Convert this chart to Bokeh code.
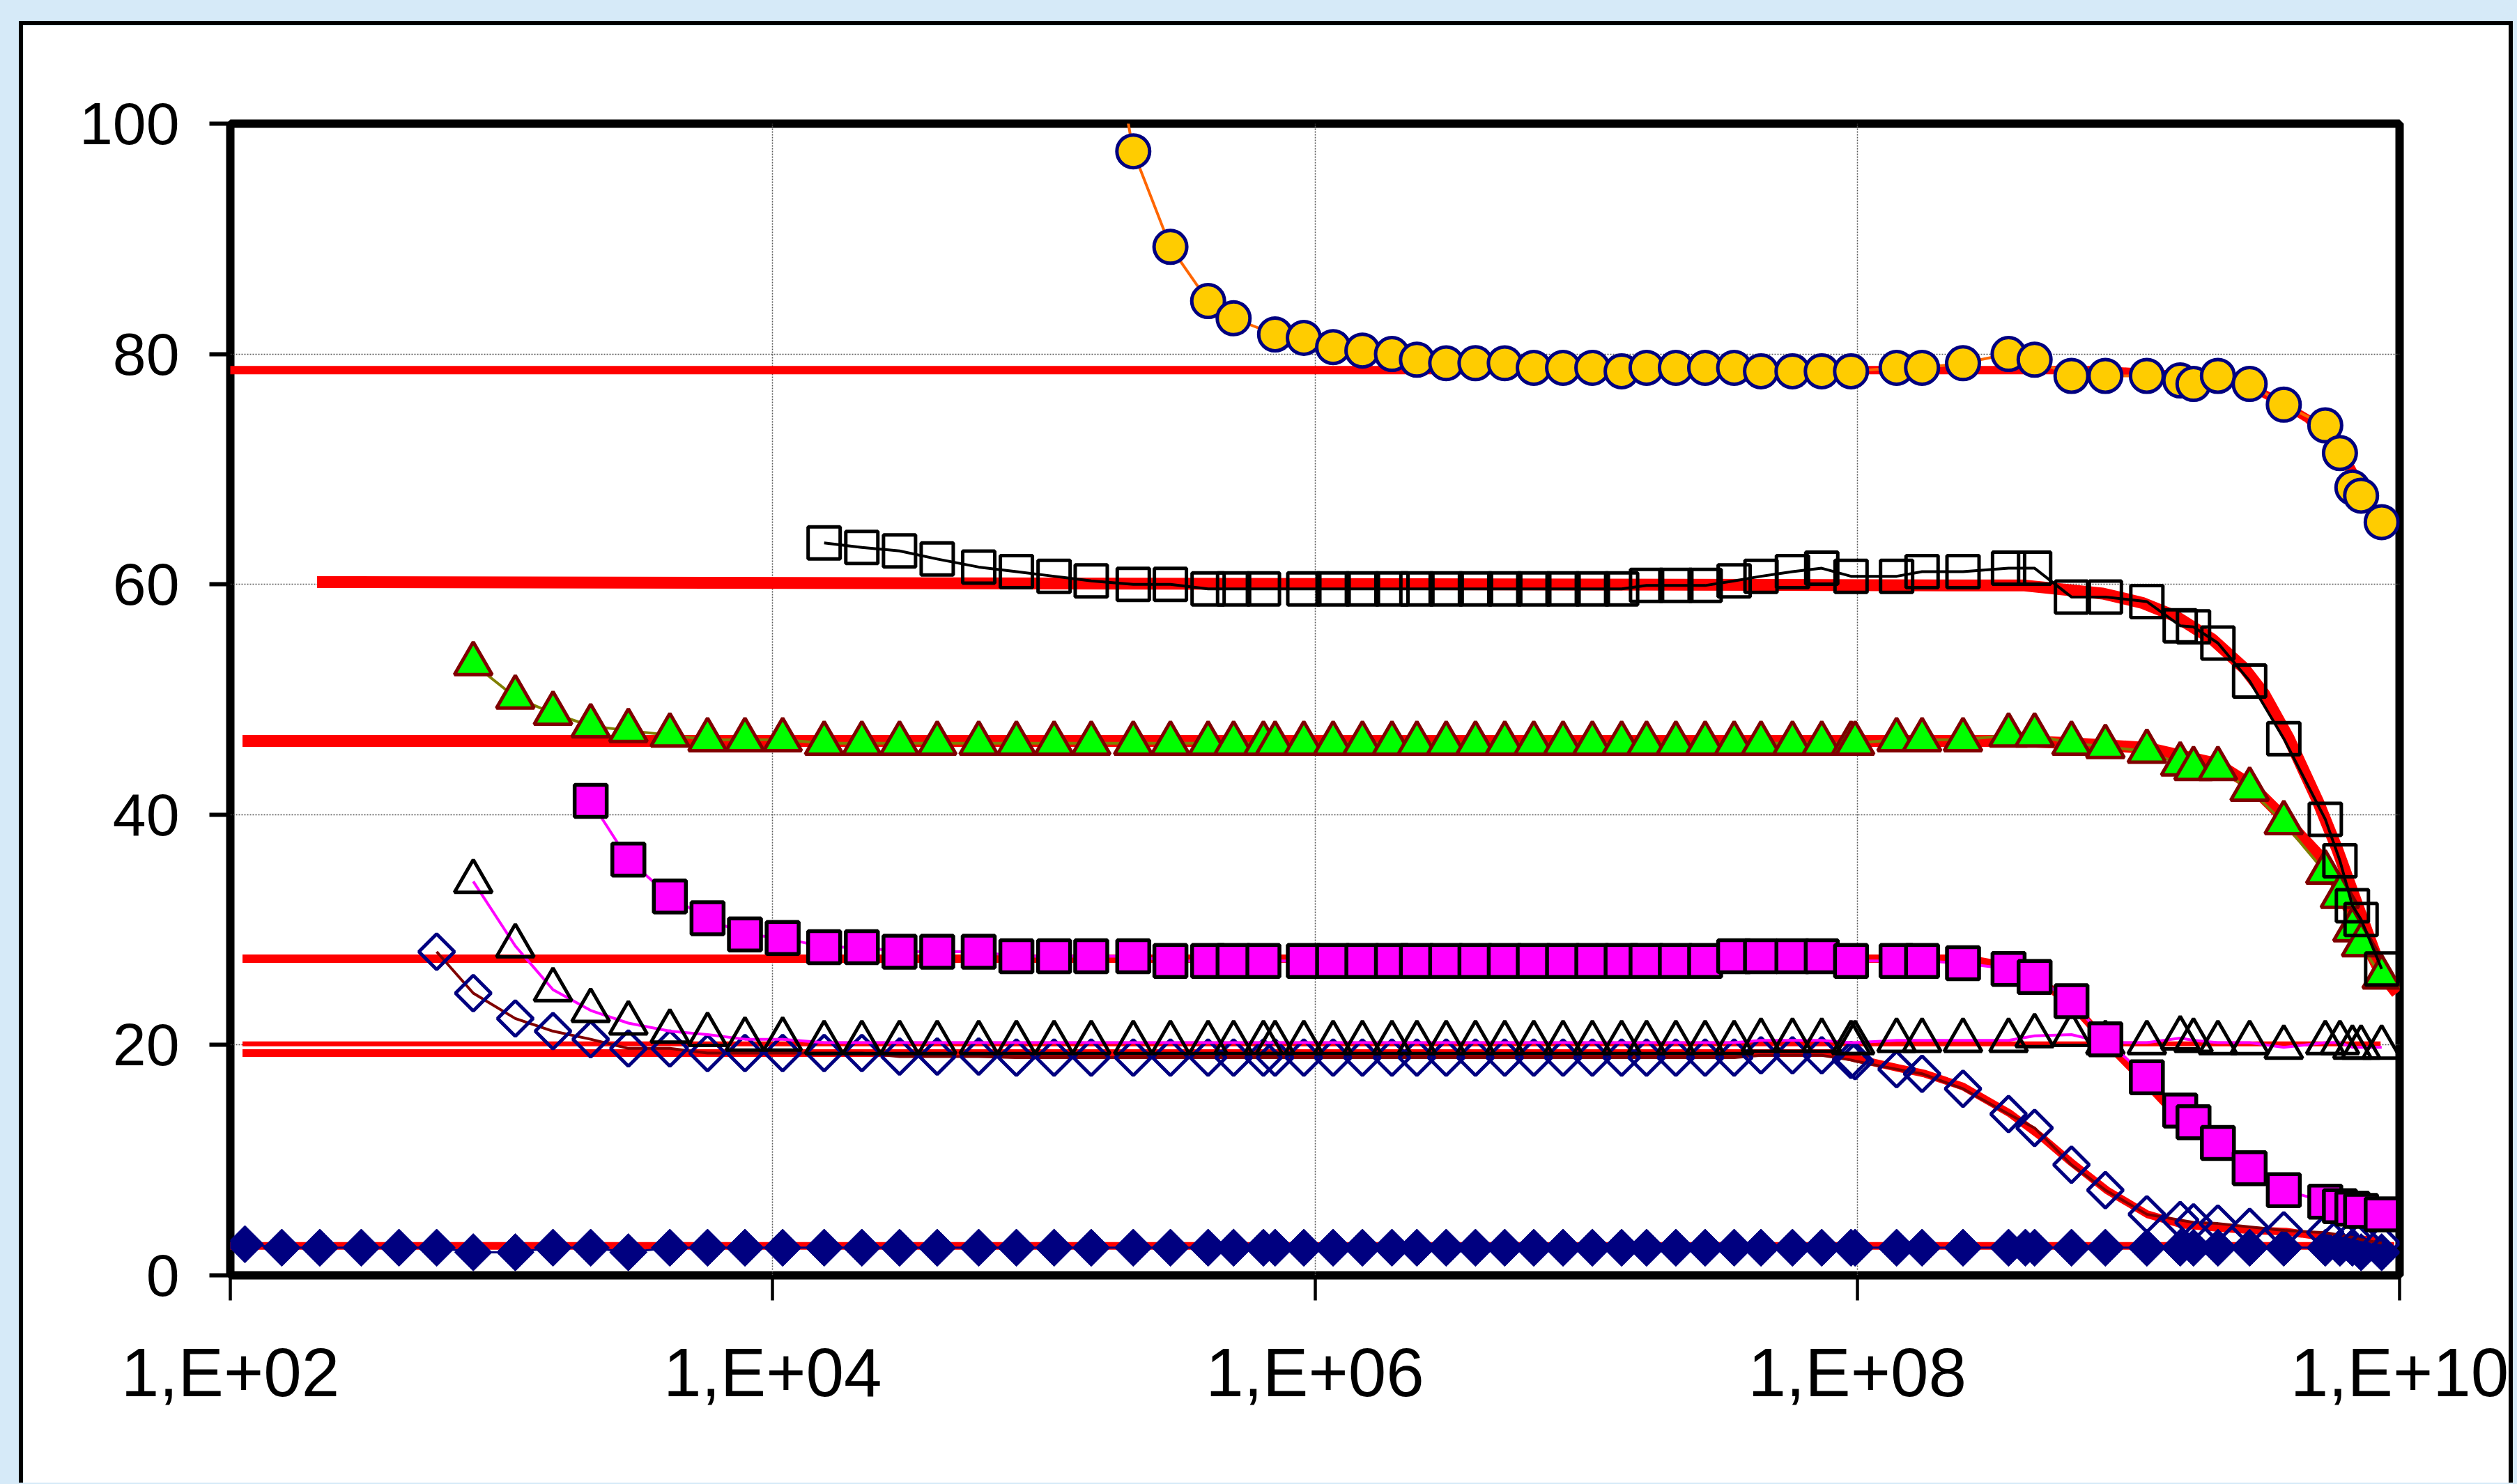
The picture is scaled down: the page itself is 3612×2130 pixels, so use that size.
from bokeh.plotting import figure
from bokeh.models import FixedTicker, Range1d
from bokeh.embed import file_html
from bokeh.resources import INLINE

# ---------------- data (x given as decimal exponent of the frequency) ----------------
navy_exp = [2.054, 2.190, 2.330, 2.483, 2.622, 2.761, 2.896, 3.051, 3.190, 3.329,
            3.468, 3.621, 3.760, 3.898, 4.037, 4.190, 4.329, 4.468, 4.607, 4.760,
            4.899, 5.038, 5.175, 5.330, 5.467, 5.606, 5.700, 5.810, 5.853, 5.959,
            6.067, 6.175, 6.284, 6.376, 6.484, 6.592, 6.700, 6.807, 6.915, 7.023,
            7.131, 7.223, 7.331, 7.439, 7.546, 7.645, 7.761, 7.869, 7.977, 7.992,
            8.145, 8.239, 8.390, 8.558, 8.620, 8.654, 8.790, 8.915, 9.068, 9.191,
            9.240, 9.330, 9.447, 9.573, 9.726, 9.780, 9.826, 9.858, 9.934]
navy_val = [2.7, 2.4, 2.4, 2.4, 2.4, 2.4, 2.0, 2.0, 2.4, 2.4,
            2.0, 2.4, 2.4, 2.4, 2.4, 2.4, 2.4, 2.4, 2.4, 2.4,
            2.4, 2.4, 2.4, 2.4, 2.4, 2.4, 2.4, 2.4, 2.4, 2.4,
            2.4, 2.4, 2.4, 2.4, 2.4, 2.4, 2.4, 2.4, 2.4, 2.4,
            2.4, 2.4, 2.4, 2.4, 2.4, 2.4, 2.4, 2.4, 2.4, 2.4,
            2.4, 2.4, 2.4, 2.4, 2.4, 2.4, 2.4, 2.4, 2.4, 2.4,
            2.4, 2.4, 2.4, 2.4, 2.4, 2.4, 2.4, 2.0, 2.0]

odia_exp = [2.761, 2.896, 3.051, 3.190, 3.329, 3.468, 3.621, 3.760, 3.898, 4.037,
            4.190, 4.329, 4.468, 4.607, 4.760, 4.899, 5.038, 5.175, 5.330, 5.467,
            5.606, 5.700, 5.810, 5.853, 5.959, 6.067, 6.175, 6.284, 6.376, 6.484,
            6.592, 6.700, 6.807, 6.915, 7.023, 7.131, 7.223, 7.331, 7.439, 7.546,
            7.645, 7.761, 7.869, 7.977, 7.992, 8.145, 8.239, 8.390, 8.558, 8.654,
            8.790, 8.915, 9.068, 9.191, 9.240, 9.330, 9.447, 9.573, 9.726, 9.780,
            9.826, 9.858, 9.934]
odia_val = [28.1, 24.5, 22.3, 21.2, 20.5, 19.7, 19.7, 19.3, 19.3, 19.3,
            19.3, 19.3, 19.0, 19.0, 19.0, 18.9, 18.9, 18.9, 18.9, 18.9,
            18.9, 18.9, 18.9, 18.9, 18.9, 18.9, 18.9, 18.9, 18.9, 18.9,
            18.9, 18.9, 18.9, 18.9, 18.9, 18.9, 18.9, 18.9, 18.9, 18.9,
            19.1, 19.1, 19.1, 18.7, 18.6, 17.9, 17.5, 16.2, 14.0, 12.8,
            9.6, 7.4, 5.3, 4.8, 4.6, 4.5, 4.2, 3.9, 3.7, 3.5,
            3.3, 3.1, 2.8]

otri_exp = [2.896, 3.051, 3.190, 3.329, 3.468, 3.621, 3.760, 3.898, 4.037, 4.190,
            4.329, 4.468, 4.607, 4.760, 4.899, 5.038, 5.175, 5.330, 5.467, 5.606,
            5.700, 5.810, 5.853, 5.959, 6.067, 6.175, 6.284, 6.376, 6.484, 6.592,
            6.700, 6.807, 6.915, 7.023, 7.131, 7.223, 7.331, 7.439, 7.546, 7.645,
            7.761, 7.869, 7.977, 7.992, 8.145, 8.239, 8.390, 8.558, 8.654, 8.790,
            8.915, 9.068, 9.191, 9.240, 9.330, 9.447, 9.573, 9.726, 9.780, 9.826,
            9.858, 9.934]
otri_val = [34.2, 28.6, 24.8, 23.0, 21.9, 21.2, 20.9, 20.5, 20.5, 20.2,
            20.2, 20.2, 20.2, 20.2, 20.2, 20.2, 20.2, 20.2, 20.2, 20.2,
            20.2, 20.2, 20.2, 20.2, 20.2, 20.2, 20.2, 20.2, 20.2, 20.2,
            20.2, 20.2, 20.2, 20.2, 20.2, 20.2, 20.2, 20.2, 20.2, 20.4,
            20.4, 20.4, 20.2, 20.2, 20.4, 20.4, 20.4, 20.4, 20.8, 20.9,
            20.2, 20.2, 20.6, 20.4, 20.2, 20.2, 19.8, 20.2, 20.2, 19.8,
            19.8, 19.8]

mag_exp = [3.329, 3.468, 3.621, 3.760, 3.898, 4.037, 4.190, 4.329, 4.468, 4.607,
           4.760, 4.899, 5.038, 5.175, 5.330, 5.467, 5.606, 5.700, 5.810, 5.959,
           6.067, 6.175, 6.284, 6.376, 6.484, 6.592, 6.700, 6.807, 6.915, 7.023,
           7.131, 7.223, 7.331, 7.439, 7.546, 7.645, 7.761, 7.869, 7.977, 8.145,
           8.239, 8.390, 8.558, 8.654, 8.790, 8.915, 9.068, 9.191, 9.240, 9.330,
           9.447, 9.573, 9.726, 9.780, 9.826, 9.858, 9.934]
mag_val = [41.2, 36.1, 32.9, 31.0, 29.6, 29.3, 28.5, 28.5, 28.1, 28.1,
           28.1, 27.7, 27.7, 27.7, 27.7, 27.3, 27.3, 27.3, 27.3, 27.3,
           27.3, 27.3, 27.3, 27.3, 27.3, 27.3, 27.3, 27.3, 27.3, 27.3,
           27.3, 27.3, 27.3, 27.3, 27.7, 27.7, 27.7, 27.7, 27.3, 27.3,
           27.3, 27.1, 26.6, 25.9, 23.8, 20.5, 17.2, 14.3, 13.3, 11.5,
           9.3, 7.4, 6.4, 6.0, 5.8, 5.6, 5.3]

green_exp = [2.896, 3.051, 3.190, 3.329, 3.468, 3.621, 3.760, 3.898, 4.037, 4.190,
             4.329, 4.468, 4.607, 4.760, 4.899, 5.038, 5.175, 5.330, 5.467, 5.606,
             5.700, 5.810, 5.853, 5.959, 6.067, 6.175, 6.284, 6.376, 6.484, 6.592,
             6.700, 6.807, 6.915, 7.023, 7.131, 7.223, 7.331, 7.439, 7.546, 7.645,
             7.761, 7.869, 7.977, 7.992, 8.145, 8.239, 8.390, 8.558, 8.654, 8.790,
             8.915, 9.068, 9.191, 9.240, 9.330, 9.447, 9.573, 9.726, 9.780, 9.826,
             9.858, 9.934]
green_val = [53.1, 50.2, 48.8, 47.7, 47.3, 46.9, 46.5, 46.5, 46.5, 46.2,
             46.2, 46.2, 46.2, 46.2, 46.2, 46.2, 46.2, 46.2, 46.2, 46.2,
             46.2, 46.2, 46.2, 46.2, 46.2, 46.2, 46.2, 46.2, 46.2, 46.2,
             46.2, 46.2, 46.2, 46.2, 46.2, 46.2, 46.2, 46.2, 46.2, 46.2,
             46.2, 46.2, 46.2, 46.2, 46.5, 46.5, 46.5, 46.9, 46.9, 46.2,
             45.9, 45.5, 44.4, 44.0, 44.0, 42.2, 39.3, 35.0, 32.9, 30.0,
             28.7, 25.9]

sq_exp = [4.190, 4.329, 4.468, 4.607, 4.760, 4.899, 5.038, 5.175, 5.330, 5.467,
          5.606, 5.700, 5.810, 5.959, 6.067, 6.175, 6.284, 6.376, 6.484, 6.592,
          6.700, 6.807, 6.915, 7.023, 7.131, 7.223, 7.331, 7.439, 7.546, 7.645,
          7.761, 7.869, 7.977, 8.145, 8.239, 8.390, 8.558, 8.654, 8.790, 8.915,
          9.068, 9.191, 9.240, 9.330, 9.447, 9.573, 9.726, 9.780, 9.826, 9.858,
          9.934]
sq_val = [63.6, 63.2, 62.9, 62.2, 61.5, 61.1, 60.7, 60.3, 60.0, 60.0,
          59.6, 59.6, 59.6, 59.6, 59.6, 59.6, 59.6, 59.6, 59.6, 59.6,
          59.6, 59.6, 59.6, 59.6, 59.6, 59.9, 59.9, 59.9, 60.3, 60.7,
          61.1, 61.4, 60.7, 60.7, 61.1, 61.1, 61.4, 61.4, 58.9, 58.9,
          58.5, 56.4, 56.3, 54.9, 51.6, 46.6, 39.6, 36.0, 32.1, 30.9,
          26.6]

yel_exp = [5.175, 5.330, 5.467, 5.606, 5.700, 5.853, 5.959, 6.067, 6.175, 6.284,
           6.376, 6.484, 6.592, 6.700, 6.807, 6.915, 7.023, 7.131, 7.223, 7.331,
           7.439, 7.546, 7.645, 7.761, 7.869, 7.977, 8.145, 8.239, 8.390, 8.558,
           8.654, 8.790, 8.915, 9.068, 9.191, 9.240, 9.330, 9.447, 9.573, 9.726,
           9.780, 9.826, 9.858, 9.934]
yel_val = [118.0, 97.6, 89.3, 84.6, 83.1, 81.7, 81.4, 80.6, 80.3, 80.0,
           79.5, 79.2, 79.2, 79.2, 78.8, 78.8, 78.8, 78.5, 78.8, 78.8,
           78.8, 78.8, 78.5, 78.5, 78.5, 78.5, 78.8, 78.8, 79.2, 80.0,
           79.5, 78.1, 78.1, 78.1, 77.7, 77.4, 78.1, 77.4, 75.6, 73.8,
           71.4, 68.4, 67.7, 65.4]

# red model (fit) curves
fit_yel_exp = [1.94, 8.90, 9.31, 9.44, 9.56, 9.66, 9.74, 9.81, 9.86, 9.915]
fit_yel_val = [78.6, 78.6, 78.0, 77.3, 75.8, 74.4, 72.6, 70.6, 68.4, 65.7]
fit_sq_exp = [2.32, 8.617, 8.906, 9.050, 9.176, 9.311, 9.428, 9.500, 9.590, 9.698, 9.770, 9.842, 9.915, 9.95]
fit_sq_val = [60.2, 59.9, 59.2, 58.4, 57.2, 55.2, 52.7, 50.5, 46.7, 41.2, 37.0, 32.3, 27.6, 25.8]
fit_green_exp = [2.045, 8.60, 8.79, 9.07, 9.33, 9.45, 9.57, 9.73, 9.83, 9.93, 9.99]
fit_green_val = [46.4, 46.4, 46.2, 45.8, 44.4, 42.6, 39.8, 35.8, 31.0, 26.3, 24.5]
fit_mag_exp = [2.045, 8.40, 8.56, 8.65, 8.79, 8.92, 9.07, 9.19, 9.24]
fit_mag_val = [27.5, 27.5, 26.8, 25.9, 23.6, 20.2, 16.6, 13.6, 12.6]
fit_otri_exp = [2.045, 9.93]
fit_otri_val = [20.1, 20.1]
fit_odia_exp = [2.045, 7.90, 8.00, 8.15, 8.25, 8.39, 8.56, 8.68, 8.79, 8.92, 9.07, 9.20, 9.34, 9.46, 9.58, 9.70, 9.93]
fit_odia_val = [19.3, 19.3, 18.8, 18.0, 17.5, 16.4, 14.1, 12.0, 9.8, 7.4, 5.3, 4.4, 4.1, 3.9, 3.8, 3.4, 3.0]
fit_navy_exp = [1.94, 9.98]
fit_navy_val = [2.55, 2.55]

x_ticks = [1e2, 1e4, 1e6, 1e8, 1e10]
x_tick_labels = ["1,E+02", "1,E+04", "1,E+06", "1,E+08", "1,E+10"]
y_ticks = [0, 20, 40, 60, 80, 100]


def hz(exps):
    return [10.0 ** e for e in exps]


# ---------------- figure ----------------
p = figure(x_axis_type="log", x_range=Range1d(1e2, 1e10), y_range=Range1d(0, 100),
           frame_width=3113, frame_height=1653,
           min_border_left=297, min_border_right=157, min_border_top=141, min_border_bottom=298,
           output_backend="svg", toolbar_location=None,
           background_fill_color="white", border_fill_color="white",
           outline_line_color="black", outline_line_width=12)
p.margin = (30, 0, 0, 27)
p.styles = {"border-top": "6px solid black", "border-left": "6px solid black",
            "border-right": "6px solid black"}

p.xgrid.ticker = FixedTicker(ticks=[1e4, 1e6, 1e8])
p.ygrid.ticker = FixedTicker(ticks=[20, 40, 60, 80])
for g in (p.xgrid, p.ygrid):
    g.grid_line_color = "#555555"
    g.grid_line_width = 1.5
    g.grid_line_dash = "2 2"

p.xaxis.ticker = FixedTicker(ticks=x_ticks)
p.xaxis.major_label_overrides = {t: l for t, l in zip(x_ticks, x_tick_labels)}
p.yaxis.ticker = FixedTicker(ticks=y_ticks)
for ax in (p.xaxis, p.yaxis):
    ax.axis_line_color = None
    ax.major_tick_in = 0
    ax.minor_tick_line_color = None
    ax.major_tick_line_color = "black"
    ax.major_label_text_font = "Liberation Sans"
    ax.major_label_text_color = "black"
p.xaxis.major_tick_out = 36
p.xaxis.major_tick_line_width = 4.5
p.xaxis.major_label_text_font_size = "98px"
p.xaxis.major_label_standoff = 48
p.yaxis.major_tick_out = 30
p.yaxis.major_tick_line_width = 6
p.yaxis.major_label_text_font_size = "86px"
p.yaxis.major_label_standoff = 43

# red fit curves
RED = "#FF0000"
p.line(hz(fit_yel_exp), fit_yel_val, line_color=RED, line_width=12)
p.line(hz(fit_sq_exp), fit_sq_val, line_color=RED, line_width=17)
p.line(hz(fit_green_exp), fit_green_val, line_color=RED, line_width=17)
p.line(hz(fit_mag_exp), fit_mag_val, line_color=RED, line_width=12)
p.line(hz(fit_otri_exp), fit_otri_val, line_color=RED, line_width=7)
p.line(hz(fit_odia_exp), fit_odia_val, line_color=RED, line_width=11)
p.line(hz(fit_navy_exp), fit_navy_val, line_color=RED, line_width=11)

# navy filled diamonds
x = hz(navy_exp)
p.line(x, navy_val, line_color="#000080", line_width=3)
p.scatter(x, navy_val, marker="square", angle=0.7854, size=38,
          fill_color="#000080", line_color="#000080", line_width=1)

# open navy diamonds
x = hz(odia_exp)
p.line(x, odia_val, line_color="#800000", line_width=4, line_join="round")
p.scatter(x, odia_val, marker="square", angle=0.7854, size=36,
          fill_color=None, line_color="#000080", line_width=5)

# open black triangles
x = hz(otri_exp)
p.line(x, otri_val, line_color="#FF00FF", line_width=4, line_join="round")
p.scatter(x, otri_val, marker="triangle", size=54,
          fill_color=None, line_color="black", line_width=5)

# magenta squares
x = hz(mag_exp)
p.line(x, mag_val, line_color="#FF00FF", line_width=4, line_join="round")
p.scatter(x, mag_val, marker="square", size=46,
          fill_color="#FF00FF", line_color="black", line_width=5.5)

# green triangles
x = hz(green_exp)
p.line(x, green_val, line_color="#808000", line_width=4, line_join="round")
p.scatter(x, green_val, marker="triangle", size=54,
          fill_color="#00FF00", line_color="#800000", line_width=5)

# open black squares
x = hz(sq_exp)
p.line(x, sq_val, line_color="black", line_width=4, line_join="round")
p.scatter(x, sq_val, marker="square", size=46,
          fill_color=None, line_color="black", line_width=5)

# yellow circles
x = hz(yel_exp)
p.line(x, yel_val, line_color="#FF6600", line_width=4, line_join="round")
p.scatter(x, yel_val, marker="circle", size=47,
          fill_color="#FFCC00", line_color="#000080", line_width=5)

html = file_html(p, INLINE)
html = html.replace("<head>", "<head><style>html, body { background-color: #D6EAF8; }</style>", 1)
open("out.html", "w").write(html)
